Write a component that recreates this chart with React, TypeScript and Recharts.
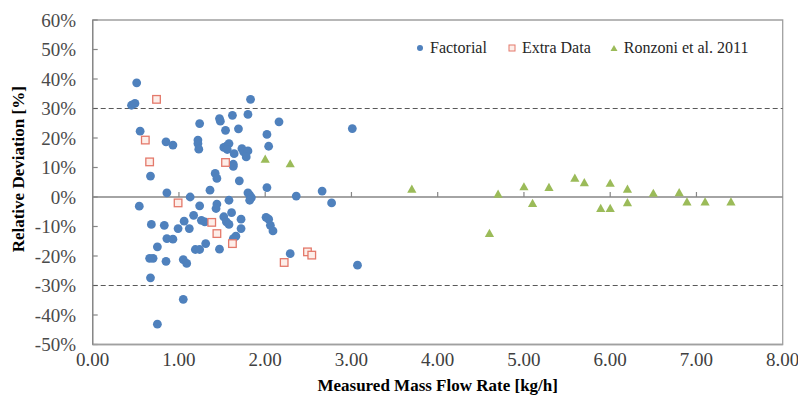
import React from 'react';
import {
  ScatterChart,
  Scatter,
  XAxis,
  YAxis,
  ReferenceLine,
  ReferenceArea,
  Legend,
  Label,
} from 'recharts';

const FONT = '"Liberation Serif", "Times New Roman", serif';

// ---- data ----
const factorialFlow = [
  0.51, 0.45, 0.49, 0.55, 0.85, 0.93, 0.67, 0.86, 1.13, 0.54,
  1.24, 0.68, 0.83, 0.99, 1.06, 1.12, 1.17, 1.26, 1.30, 0.86,
  0.93, 0.75, 1.31, 1.19, 1.24, 0.66, 0.70, 0.85, 1.05, 1.09,
  0.67, 1.05, 0.75, 1.24, 1.22, 1.22, 1.23, 1.36, 1.83, 1.47,
  1.48, 1.62, 1.80, 2.16, 3.01, 1.54, 1.69, 2.02, 2.04, 1.52,
  1.55, 1.58, 1.56, 1.64, 1.63, 1.63, 1.73, 1.75, 1.80, 1.78,
  1.42, 1.44, 1.70, 1.80, 1.82, 1.84, 1.82, 2.02, 2.36, 2.66,
  2.77, 1.44, 1.43, 1.58, 1.52, 1.55, 1.58, 1.61, 1.72, 1.72,
  1.66, 1.63, 2.01, 2.04, 2.06, 2.09, 1.47, 2.29, 3.07,
];
const factorialDev = [
  38.7, 31.1, 31.7, 22.3, 18.7, 17.6, 7.1, 1.4, 0.0, -3.1,
  -3.0, -9.3, -9.6, -10.7, -8.2, -10.7, -6.2, -7.9, -8.4, -14.1,
  -14.3, -16.9, -15.8, -17.8, -17.8, -20.8, -20.8, -21.8, -21.2, -22.5,
  -27.4, -34.7, -43.1, 24.9, 19.3, 18.1, 16.2, 2.3, 33.1, 26.6,
  25.7, 27.7, 28.0, 25.5, 23.2, 22.6, 23.1, 21.2, 17.2, 16.8,
  17.2, 18.1, 16.1, 14.7, 11.1, 10.4, 16.4, 15.3, 15.6, 13.6,
  8.0, 6.3, 5.5, 1.4, 0.6, -0.2, -1.1, 3.2, 0.3, 2.0,
  -2.0, -2.4, -3.9, -1.1, -6.7, -8.4, -9.3, -5.3, -7.5, -10.7,
  -13.3, -14.1, -6.9, -7.5, -9.6, -11.5, -17.7, -19.2, -23.1,
];

const extraFlow = [0.74, 0.61, 0.66, 0.99, 1.54, 1.38, 1.44, 1.62, 2.22, 2.49, 2.54];
const extraDev = [33.1, 19.3, 11.9, -2.0, 11.7, -8.6, -12.4, -15.8, -22.2, -18.6, -19.7];

const ronzoniFlow = [
  2.0, 2.29, 3.7, 4.6, 4.7, 5.0, 5.1, 5.29, 5.59, 5.7,
  5.89, 6.0, 6.0, 6.2, 6.2, 6.5, 6.8, 6.89, 7.1, 7.4,
];
const ronzoniDev = [
  12.8, 11.2, 2.6, -12.4, 0.9, 3.4, -2.2, 3.2, 6.3, 4.8,
  -3.9, -3.9, 4.6, 2.6, -2.0, 1.2, 1.4, -1.7, -1.7, -1.7,
];

const xTicks = [0, 1, 2, 3, 4, 5, 6, 7, 8];
const yTicks = [-50, -40, -30, -20, -10, 0, 10, 20, 30, 40, 50, 60];
const limitLines = [30, -30];
const seriesNames = ['Factorial', 'Extra Data', 'Ronzoni et al. 2011'];

const toPoints = (xs: number[], ys: number[]) => xs.map((x, i) => ({ x, y: ys[i] }));
const factorialData = toPoints(factorialFlow, factorialDev);
const extraData = toPoints(extraFlow, extraDev);
const ronzoniData = toPoints(ronzoniFlow, ronzoniDev);

const BLUE = '#4f81bd';
const RED = '#e4796b';
const RED_FILL = '#fdeee9';
const GREEN = '#9bbb59';

const CircleShape = (p: any) => <circle cx={p.cx} cy={p.cy} r={4.4} fill={BLUE} />;
const SquareShape = (p: any) => (
  <rect x={p.cx - 3.8} y={p.cy - 3.8} width={7.6} height={7.6} fill={RED_FILL} stroke={RED} strokeWidth={1.3} />
);
const TriangleShape = (p: any) => (
  <path
    d={`M${p.cx},${p.cy - 4.8} L${p.cx + 4.6},${p.cy + 3.4} L${p.cx - 4.6},${p.cy + 3.4} Z`}
    fill={GREEN}
  />
);

const legendMarkers = [
  <svg width={8} height={8} key="a"><circle cx={4} cy={4} r={3} fill={BLUE} /></svg>,
  <svg width={8} height={8} key="b"><rect x={1} y={1} width={6} height={6} fill={RED_FILL} stroke={RED} strokeWidth={1} /></svg>,
  <svg width={8} height={8} key="c"><path d="M4,1 L7.5,7 L0.5,7 Z" fill={GREEN} /></svg>,
];

const renderLegend = () => (
  <div style={{ display: 'flex', alignItems: 'center', fontFamily: FONT, fontSize: 16, lineHeight: '20px', color: '#262626', whiteSpace: 'nowrap' }}>
    {seriesNames.map((n, i) => (
      <div key={n} style={{ display: 'flex', alignItems: 'center', marginRight: i === 0 ? 21 : 19 }}>
        {legendMarkers[i]}
        <span style={{ marginLeft: 6 }}>{n}</span>
      </div>
    ))}
  </div>
);

const XTitle = (props: any) => {
  const vb = props.viewBox || {};
  return (
    <text x={vb.x + vb.width / 2} y={vb.y + 41} textAnchor="middle" dominantBaseline="central"
      fontFamily="Liberation Serif" fontSize={17} fontWeight="bold" fill="#000">
      Measured Mass Flow Rate [kg/h]
    </text>
  );
};

const YTitle = (props: any) => {
  const vb = props.viewBox || {};
  const cx = vb.x + 5.5;
  const cy = vb.y + vb.height / 2 - 13;
  return (
    <text x={cx} y={cy} transform={`rotate(-90 ${cx} ${cy})`} textAnchor="middle" dominantBaseline="central"
      fontFamily="Liberation Serif" fontSize={17} fontWeight="bold" fill="#000">
      Relative Deviation [%]
    </text>
  );
};

const XTick = (p: any) => (
  <text x={p.x} y={p.y} dy="0.71em" textAnchor="middle" fontFamily="Liberation Serif" fontSize={19} fill="#404040">
    {Number(p.payload.value).toFixed(2)}
  </text>
);

const YTick = (p: any) => (
  <text x={p.x} y={p.y} dy="0.355em" textAnchor="end" fontFamily="Liberation Serif" fontSize={19} fill="#4a4a4a">
    {`${p.payload.value}%`}
  </text>
);

const Y_TICK_LEN = 5 / 86.25; // inward tick length in x units
const X_TICK_LEN = 1.7; // upward tick length in % units

export default function App() {
  return (
    <div style={{ position: 'absolute', left: 0, top: 0, width: 798, height: 398, background: '#fff', fontFamily: FONT }}>
      <ScatterChart width={798} height={398} margin={{ top: 20, right: 15.3, bottom: 23.5, left: 12.7 }}>
        <ReferenceArea x1={0} x2={8} y1={-50} y2={60} fill="none" stroke="#a0a0a0" strokeWidth={1.3} />
        <XAxis
          dataKey="x"
          type="number"
          domain={[0, 8]}
          ticks={xTicks}
          interval={0}
          allowDataOverflow
          height={30}
          tickLine={false}
          tickSize={0}
          tickMargin={8}
          axisLine={{ stroke: '#a0a0a0', strokeWidth: 1.3 }}
          tick={XTick}
        >
          <Label content={XTitle} />
        </XAxis>
        <YAxis
          dataKey="y"
          type="number"
          domain={[-50, 60]}
          ticks={yTicks}
          interval={0}
          allowDataOverflow
          width={80}
          tickLine={false}
          tickSize={0}
          tickMargin={16.7}
          axisLine={{ stroke: '#868686', strokeWidth: 1.3 }}
          tick={YTick}
        >
          <Label content={YTitle} />
        </YAxis>
        {yTicks.map((v) => (
          <ReferenceLine key={`yt${v}`} segment={[{ x: 0, y: v }, { x: Y_TICK_LEN, y: v }]} stroke="#868686" strokeWidth={1.2} />
        ))}
        {limitLines.map((v) => (
          <ReferenceLine key={`lim${v}`} y={v} stroke="#595959" strokeWidth={1} strokeDasharray="5 3" />
        ))}
        <ReferenceLine y={0} stroke="#868686" strokeWidth={1.5} />
        {xTicks.slice(1, -1).map((v) => (
          <ReferenceLine key={`xt${v}`} segment={[{ x: v, y: 0 }, { x: v, y: X_TICK_LEN }]} stroke="#868686" strokeWidth={1.2} />
        ))}
        <Scatter name={seriesNames[0]} data={factorialData} shape={CircleShape} isAnimationActive={false} />
        <Scatter name={seriesNames[1]} data={extraData} shape={SquareShape} isAnimationActive={false} />
        <Scatter name={seriesNames[2]} data={ronzoniData} shape={TriangleShape} isAnimationActive={false} />
        <Legend
          layout="horizontal"
          verticalAlign="middle"
          align="center"
          content={renderLegend}
          wrapperStyle={{ position: 'absolute', left: 416, top: 38, width: 370, height: 20 }}
        />
      </ScatterChart>
    </div>
  );
}
